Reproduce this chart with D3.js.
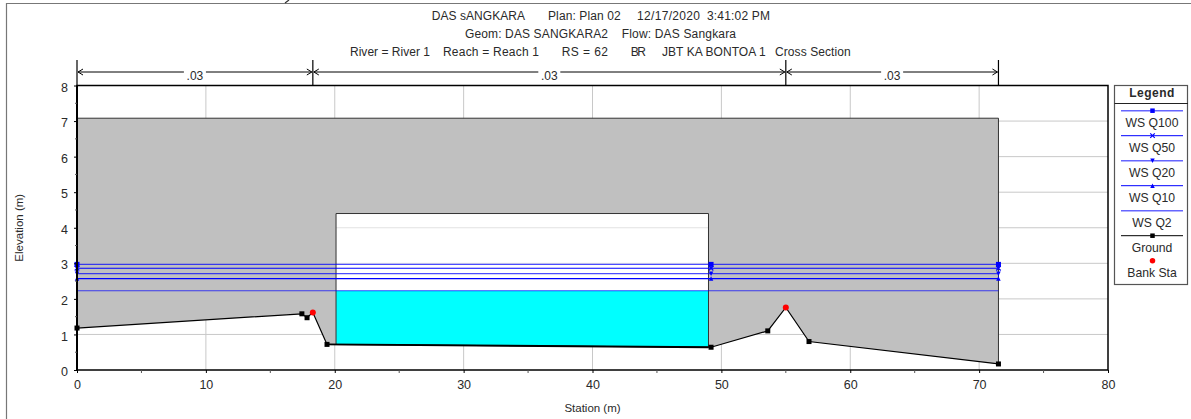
<!DOCTYPE html>
<html><head><meta charset="utf-8">
<script src="https://cdn.jsdelivr.net/npm/d3@7"></script>
<style>
html,body{margin:0;padding:0;background:#fff}
svg{display:block}
text{font-family:"Liberation Sans",Arial,sans-serif;fill:#2a2a2a}
</style></head><body><svg id="c" width="1191" height="419"></svg>
<script>
const titleParts = [
  "DAS sANGKARA","Plan: Plan 02","12/17/2020","3:41:02 PM",
  "Geom: DAS SANGKARA2","Flow: DAS Sangkara",
  "River = River 1","Reach = Reach 1","RS = 62","BR","JBT KA BONTOA 1","Cross Section"
];
const xTicks = [0,10,20,30,40,50,60,70,80];
const xMinor = [5,15,25,35,45,55,65,75];
const yTicks = [0,1,2,3,4,5,6,7,8];
const yMinor = [0.5,1.5,2.5,3.5,4.5,5.5,6.5,7.5];
const groundX = [0,17.45,17.85,18.3,19.4,49.2,53.6,55,56.8,71.5];
const groundY = [1.18,1.58,1.47,1.62,0.72,0.64,1.10,1.76,0.80,0.17];
const bankX = [18.3,55];
const bankY = [1.62,1.76];
const deckTop = 7.08;
const lowChord = 4.4;
const openingX = [20.1,49];
const openingBed = [0.72,0.64];
const wsNames = ["WS Q100","WS Q50","WS Q20","WS Q10","WS Q2"];
const wsLevels = [2.97,2.86,2.71,2.57,2.23];
const wsMarkerX = [0,49.2,71.5];
const wsSymbols = ["square","x","down","up",null];
const wsOpacity = [0.6,1,0.6,1,0.6];
const nValues = [".03",".03",".03"];
const nBreaks = [0,18.3,55,71.5];

// title layout, kept apart from the text: left, right, baseline
const titleStart = [431.7,548,637,707,465,621.7,350,443,561.7,630.7,662,775];
const titleEnd   = [525,620.7,700,770,608,736,430,539,608,646,765.7,850.7];
const titleBase  = [20,20,20,20,38,38,56,56,56,56,56,56];

const svg = d3.select("#c");
const x = d3.scaleLinear().domain([0,80]).range([77,1108]);
const y = d3.scaleLinear().domain([0,8]).range([370,85.5]);
const blue = "#0000ff";

// outer frame
svg.append("path").attr("d","M6.5,419V3.5H1191").attr("fill","none").attr("stroke","#777").attr("stroke-width",1.2);
svg.append("path").attr("d","M285,3L289,0").attr("fill","none").attr("stroke","#333").attr("stroke-width",1.2);

// titles
svg.selectAll("text.t").data(titleParts).join("text").attr("class","t")
  .attr("x",(d,i)=>titleStart[i]).attr("y",(d,i)=>titleBase[i])
  .attr("textLength",(d,i)=>titleEnd[i]-titleStart[i]).attr("lengthAdjust","spacing")
  .attr("font-size",12).text(d=>d);

// grid
const g = svg.append("g");
g.selectAll("line.gx").data(xTicks.slice(1,-1)).join("line").attr("class","gx")
  .attr("x1",d=>x(d)).attr("x2",d=>x(d)).attr("y1",y(8)).attr("y2",y(0)).attr("stroke","#c8c8c8");
g.selectAll("line.gy").data(yTicks.slice(1,-1)).join("line").attr("class","gy")
  .attr("x1",x(0)).attr("x2",x(80)).attr("y1",d=>y(d)).attr("y2",d=>y(d)).attr("stroke","#c8c8c8");

// deck + embankment (grey) above the ground
const deckLine = [[groundX[0],deckTop],[groundX[groundX.length-1],deckTop]];
const outline = deckLine.concat(groundX.map((v,i)=>[v,groundY[i]]).reverse());
svg.append("path").attr("d",d3.line().x(d=>x(d[0])).y(d=>y(d[1])).curve(d3.curveLinearClosed)(outline))
  .attr("fill","#c0c0c0");

// bridge opening
const op = [[openingX[0],lowChord],[openingX[1],lowChord],[openingX[1],openingBed[1]],[openingX[0],openingBed[0]]];
const opLine = d3.line().x(d=>x(d[0])).y(d=>y(d[1]));
svg.append("path").attr("d",opLine(op)+"Z").attr("fill","#fff");
[3,4].forEach(v=>svg.append("line").attr("x1",x(openingX[0])).attr("x2",x(openingX[1])).attr("y1",y(v)).attr("y2",y(v)).attr("stroke","#e2e2e2"));
// water in opening
const wq = wsLevels[wsLevels.length-1];
svg.append("path").attr("d",opLine([[openingX[0],wq],[openingX[1],wq],[openingX[1],openingBed[1]],[openingX[0],openingBed[0]]])+"Z").attr("fill","#00ffff");
// structure outline
svg.append("path").attr("d",opLine([[openingX[0],openingBed[0]],[openingX[0],lowChord],[openingX[1],lowChord],[openingX[1],openingBed[1]]]))
  .attr("fill","none").attr("stroke","#333").attr("stroke-width",1);
// deck outline
svg.append("path").attr("d",opLine([[groundX[0],groundY[0]],[groundX[0],deckTop],[71.5,deckTop],[71.5,groundY[groundY.length-1]]]))
  .attr("fill","none").attr("stroke","#333").attr("stroke-width",1);

// water surfaces
wsLevels.forEach((lv,i)=>{
  svg.append("line").attr("x1",x(0)).attr("x2",x(71.5)).attr("y1",y(lv)).attr("y2",y(lv))
    .attr("stroke",blue).attr("stroke-opacity",wsOpacity[i]+0.1).attr("stroke-width",1.1);
});
function marker(sel,kind,cx,cy,s,color){
  if(!kind) return;
  if(kind==="square") sel.append("rect").attr("x",cx-s/2).attr("y",cy-s/2).attr("width",s).attr("height",s).attr("fill",color);
  else if(kind==="circle") sel.append("circle").attr("cx",cx).attr("cy",cy).attr("r",s/2).attr("fill",color);
  else if(kind==="x") sel.append("path").attr("d",`M${cx-s/2},${cy-s/2}L${cx+s/2},${cy+s/2}M${cx-s/2},${cy+s/2}L${cx+s/2},${cy-s/2}`).attr("stroke",color).attr("stroke-width",1.2);
  else if(kind==="down") sel.append("path").attr("d",`M${cx-s/2},${cy-s/2}H${cx+s/2}L${cx},${cy+s/2}Z`).attr("fill",color);
  else if(kind==="up") sel.append("path").attr("d",`M${cx-s/2},${cy+s/2}H${cx+s/2}L${cx},${cy-s/2}Z`).attr("fill",color);
}
wsLevels.forEach((lv,i)=>wsMarkerX.forEach(mx=>marker(svg,wsSymbols[i],x(mx),y(lv),i===0?5:4.5,blue)));

// ground line
svg.append("path").attr("d",d3.line().x(d=>x(d)).y((d,i)=>y(groundY[i]))(groundX))
  .attr("fill","none").attr("stroke","#000").attr("stroke-width",1.2);
svg.append("line").attr("x1",x(19.4)).attr("x2",x(49)).attr("y1",y(0.72)).attr("y2",y(0.64)).attr("stroke","#000").attr("stroke-width",1.8);
groundX.forEach((v,i)=>{ if(!bankX.includes(v)) marker(svg,"square",x(v),y(groundY[i]),5,"#000"); });
bankX.forEach((v,i)=>marker(svg,"circle",x(v),y(bankY[i]),6,"#ff0000"));

// axes frame
svg.append("rect").attr("x",x(0)).attr("y",y(8)).attr("width",x(80)-x(0)).attr("height",y(0)-y(8))
  .attr("fill","none").attr("stroke","#000").attr("stroke-width",1.5);
svg.append("line").attr("x1",x(0)).attr("x2",x(0)).attr("y1",y(8)).attr("y2",y(0)).attr("stroke","#000").attr("stroke-width",2);

// axes
const ax = svg.append("g").attr("transform",`translate(0,${y(0)})`).call(d3.axisBottom(x).tickValues(xTicks).tickSize(3).tickPadding(7).tickFormat(d3.format("d")));
const ay = svg.append("g").attr("transform",`translate(${x(0)},0)`).call(d3.axisLeft(y).tickValues(yTicks).tickSize(3).tickPadding(6).tickFormat(d3.format("d")));
[ax,ay].forEach(a=>{a.select(".domain").remove();a.selectAll("text").attr("font-size",12.5).attr("font-family",'"Liberation Sans"').attr("fill","#2a2a2a");a.selectAll("line").attr("stroke","#000");});
ay.selectAll("text").attr("dy","0.45em");
svg.selectAll("line.mx").data(xMinor).join("line").attr("class","mx").attr("x1",d=>x(d)).attr("x2",d=>x(d)).attr("y1",y(0)).attr("y2",y(0)+3).attr("stroke","#555");
svg.selectAll("line.my").data(yMinor).join("line").attr("class","my").attr("x1",x(0)-2).attr("x2",x(0)).attr("y1",d=>y(d)).attr("y2",d=>y(d)).attr("stroke","#555");
svg.append("text").attr("x",x(40)).attr("y",412).attr("text-anchor","middle").attr("font-size",11.5).text("Station (m)");
svg.append("text").attr("transform",`translate(23,${y(4)}) rotate(-90)`).attr("text-anchor","middle").attr("font-size",11.5).text("Elevation (m)");

// Manning n bars
const ny = 72;
nBreaks.forEach(b=>svg.append("line").attr("x1",x(b)).attr("x2",x(b)).attr("y1",60).attr("y2",y(8)).attr("stroke","#000").attr("stroke-width",1.2));
nValues.forEach((n,i)=>{
  const a=x(nBreaks[i]), b=x(nBreaks[i+1]), m=(a+b)/2;
  svg.append("path").attr("d",`M${a+1},${ny}H${m-11}M${m+11},${ny}H${b-1}`).attr("stroke","#000").attr("fill","none");
  svg.append("path").attr("d",`M${a+6},${ny-3}L${a+1},${ny}L${a+6},${ny+3}M${b-6},${ny-3}L${b-1},${ny}L${b-6},${ny+3}`).attr("stroke","#000").attr("fill","none");
  svg.append("text").attr("x",m).attr("y",ny+7.5).attr("text-anchor","middle").attr("font-size",12).text(n);
});

// legend
const lg = svg.append("g");
lg.append("rect").attr("x",1114.5).attr("y",85.5).attr("width",73).attr("height",199).attr("fill","#fff").attr("stroke","#555").attr("stroke-width",1.2);
lg.append("line").attr("x1",1114.5).attr("x2",1188).attr("y1",103.5).attr("y2",103.5).attr("stroke","#222");
lg.append("text").attr("x",1152).attr("y",97).attr("text-anchor","middle").attr("font-size",12).attr("font-weight","bold").style("letter-spacing","0.5px").text("Legend");
const legendNames = wsNames.concat(["Ground","Bank Sta"]);
const legendKinds = wsSymbols.concat(["square","circle"]);
legendNames.forEach((n,i)=>{
  const ly = 110.7+i*25;
  const col = i<5?blue:(i===5?"#000":"#f00");
  if(i<6) lg.append("line").attr("x1",1121).attr("x2",1183).attr("y1",ly).attr("y2",ly).attr("stroke",col).attr("stroke-width",i<5&&wsOpacity[i]<1?1.5:1).attr("stroke-opacity",i<5?wsOpacity[i]:1);
  marker(lg,legendKinds[i],1152.5,ly,i===6?5.5:4.5,col);
  lg.append("text").attr("x",1152).attr("y",ly+16.5).attr("text-anchor","middle").attr("font-size",12.2).text(n);
});
</script></body></html>
